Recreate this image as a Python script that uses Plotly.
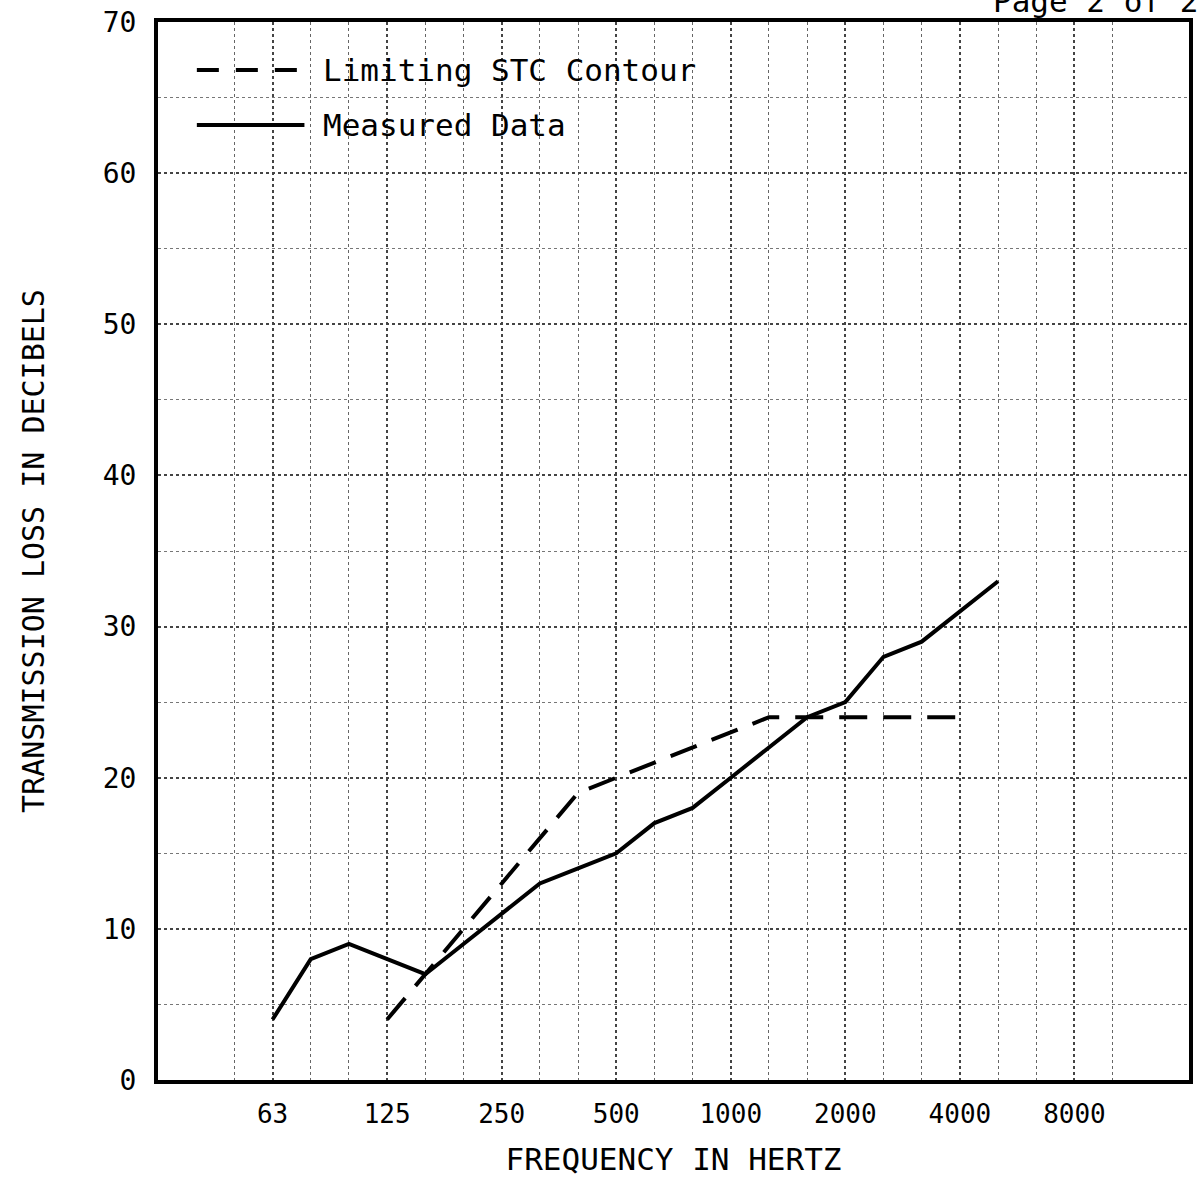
import plotly.graph_objects as go

# One-third-octave band centre frequencies shown on the grid (Hz)
bands = [50, 63, 80, 100, 125, 160, 200, 250, 315, 400, 500, 630, 800,
         1000, 1250, 1600, 2000, 2500, 3150, 4000, 5000, 6300, 8000, 10000]
octave_labels = [63, 125, 250, 500, 1000, 2000, 4000, 8000]

# Measured transmission loss (dB)
measured_freq = [63, 80, 100, 125, 160, 200, 250, 315, 400, 500, 630, 800,
                 1000, 1250, 1600, 2000, 2500, 3150, 4000, 5000]
measured_tl = [4, 8, 9, 8, 7, 9, 11, 13, 14, 15, 17, 18,
               20, 22, 24, 25, 28, 29, 31, 33]

# Limiting STC contour (dB)
stc_freq = [125, 160, 200, 250, 315, 400, 500, 630, 800, 1000, 1250, 1600,
            2000, 2500, 3150, 4000]
stc_tl = [4, 7, 10, 13, 16, 19, 20, 21, 22, 23, 24, 24, 24, 24, 24, 24]

y_ticks = [0, 10, 20, 30, 40, 50, 60, 70]

FONT = "DejaVu Sans Mono"


def idx(freqs):
    return [bands.index(f) for f in freqs]


fig = go.Figure()
fig.add_trace(go.Scatter(
    x=idx(stc_freq), y=stc_tl, mode="lines", name="Limiting STC Contour",
    line=dict(color="black", width=4, dash="28px,16px"), showlegend=False))
fig.add_trace(go.Scatter(
    x=idx(measured_freq), y=measured_tl, mode="lines", name="Measured Data",
    line=dict(color="black", width=4), showlegend=False))

L, R, T, B = 158, 6, 22, 105
W, H = 1199, 1185
pw = W - L - R
ph = H - T - B


def px(x):
    return (x - L) / pw


def py(y):
    return (H - B - y) / ph


major_x = [bands.index(f) for f in octave_labels]
minor_x = [i for i in range(len(bands)) if i not in major_x]

fig.update_xaxes(
    range=[-2, 25], tickmode="array", tickvals=major_x,
    ticktext=[str(f) for f in octave_labels],
    showgrid=True, gridcolor="#444444", griddash="dot", gridwidth=1.5,
    minor=dict(tickmode="array", tickvals=minor_x, showgrid=True,
               gridcolor="#666666", griddash="dot", gridwidth=1.3),
    showline=True, linecolor="black", linewidth=4, mirror=True,
    zeroline=False, ticks="", ticklabelstandoff=8,
    tickfont=dict(family=FONT, size=26, color="black"),
    title=dict(text="FREQUENCY IN HERTZ", standoff=21,
               font=dict(family=FONT, size=31, color="black")),
)
fig.update_yaxes(
    range=[0, 70], tickmode="array", tickvals=y_ticks,
    ticktext=[str(v) for v in y_ticks],
    showgrid=True, gridcolor="#444444", griddash="dot", gridwidth=1.6,
    minor=dict(dtick=5, showgrid=True, gridcolor="#777777", griddash="dot",
               gridwidth=1.3),
    showline=True, linecolor="black", linewidth=4, mirror=True,
    zeroline=False, ticks="", ticklabelstandoff=12,
    tickfont=dict(family=FONT, size=28, color="black"),
    title=dict(text="TRANSMISSION LOSS IN DECIBELS", standoff=50,
               font=dict(family=FONT, size=30, color="black")),
)

shapes = [
    dict(type="line", xref="paper", yref="paper",
         x0=px(197), x1=px(310), y0=py(70), y1=py(70),
         line=dict(color="black", width=4, dash="22px,17px")),
    dict(type="line", xref="paper", yref="paper",
         x0=px(197), x1=px(305), y0=py(125), y1=py(125),
         line=dict(color="black", width=4)),
]
annotations = [
    dict(text="Limiting STC Contour", xref="paper", yref="paper",
         x=px(322), y=py(70), xanchor="left", yanchor="middle",
         showarrow=False, font=dict(family=FONT, size=31, color="black")),
    dict(text="Measured Data", xref="paper", yref="paper",
         x=px(322), y=py(125), xanchor="left", yanchor="middle",
         showarrow=False, font=dict(family=FONT, size=31, color="black")),
    dict(text="Page 2 of 2", xref="paper", yref="paper",
         x=px(1204), y=py(1), xanchor="right", yanchor="middle",
         showarrow=False, font=dict(family=FONT, size=31, color="black")),
]

fig.update_layout(
    width=W, height=H,
    margin=dict(l=L, r=R, t=T, b=B, pad=0),
    paper_bgcolor="white", plot_bgcolor="white",
    shapes=shapes, annotations=annotations,
    showlegend=False,
)

fig.write_html(
    "out.html",
    config={"displayModeBar": False},
    post_script="document.body.style.margin='0';"
                "document.body.style.overflow='hidden';",
)
